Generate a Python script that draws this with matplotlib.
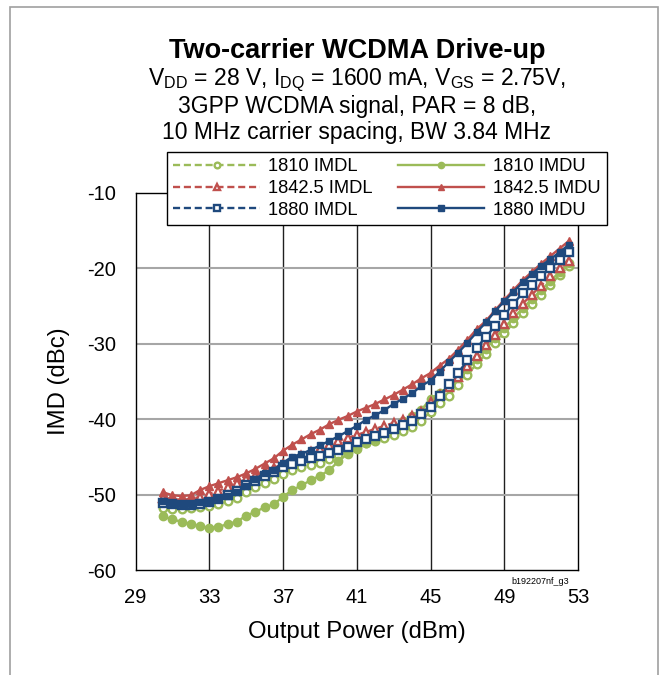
import numpy as np
import matplotlib
matplotlib.use("Agg")
import matplotlib.pyplot as plt
from matplotlib.patches import Rectangle

plt.rcParams['font.family'] = ['Liberation Sans', 'DejaVu Sans']
plt.rcParams['mathtext.fontset'] = 'custom'
plt.rcParams['mathtext.rm'] = 'Liberation Sans'
plt.rcParams['axes.unicode_minus'] = False

# output power (dBm)
pout = [30.5, 31, 31.5, 32, 32.5, 33, 33.5, 34, 34.5, 35, 35.5, 36, 36.5, 37, 37.5,
        38, 38.5, 39, 39.5, 40, 40.5, 41, 41.5, 42, 42.5, 43, 43.5, 44, 44.5, 45,
        45.5, 46, 46.5, 47, 47.5, 48, 48.5, 49, 49.5, 50, 50.5, 51, 51.5, 52, 52.5]

imdl_1810 = [-51.8, -51.9, -51.9, -51.8, -51.6, -51.5, -51.2, -50.9, -50.4, -49.6,
             -49.0, -48.5, -47.9, -47.3, -46.8, -46.4, -46.1, -45.8, -45.3, -44.8,
             -44.3, -43.7, -43.2, -42.9, -42.5, -42.1, -41.6, -41.0, -40.2, -39.0,
             -37.9, -36.9, -35.5, -34.1, -32.7, -31.4, -29.9, -28.6, -27.3, -26.0,
             -24.8, -23.5, -22.2, -20.9, -19.7]
imdu_1810 = [-52.9, -53.3, -53.6, -53.9, -54.2, -54.4, -54.3, -53.9, -53.6, -52.8,
             -52.3, -51.7, -51.3, -50.3, -49.4, -48.8, -48.1, -47.5, -46.8, -45.6,
             -44.6, -43.9, -43.2, -42.6, -41.9, -41.1, -40.3, -39.6, -38.8, -37.3,
             -36.6, -35.7, -34.6, -33.4, -32.1, -30.7, -29.3, -27.9, -26.6, -25.3,
             -24.1, -22.9, -21.7, -20.5, -19.3]
imdl_1842 = [-50.4, -50.6, -50.7, -50.6, -50.3, -49.9, -49.5, -49.0, -48.5, -48.0,
             -47.5, -47.0, -46.5, -45.9, -45.4, -44.9, -44.4, -43.9, -43.4, -42.9,
             -42.5, -42.1, -41.7, -41.3, -40.9, -40.5, -40.1, -39.6, -39.0, -37.8,
             -36.8, -35.7, -34.4, -33.0, -31.6, -30.2, -28.8, -27.4, -26.0, -24.7,
             -23.5, -22.3, -21.1, -20.0, -19.0]
imdu_1842 = [-49.7, -50.1, -50.2, -50.1, -49.4, -48.9, -48.5, -48.1, -47.7, -47.2,
             -46.6, -45.9, -45.2, -44.2, -43.4, -42.7, -42.0, -41.4, -40.7, -40.1,
             -39.6, -39.0, -38.5, -38.0, -37.4, -36.8, -36.1, -35.4, -34.6, -33.9,
             -32.9, -32.0, -30.8, -29.5, -28.1, -27.0, -25.6, -24.2, -22.9, -21.6,
             -20.5, -19.4, -18.4, -17.4, -16.4]
imdl_1880 = [-51.1, -51.3, -51.4, -51.4, -51.2, -51.0, -50.6, -50.1, -49.5, -48.8,
             -48.2, -47.6, -47.0, -46.4, -46.0, -45.6, -45.2, -44.9, -44.5, -44.1,
             -43.7, -43.1, -42.6, -42.3, -41.8, -41.3, -40.8, -40.2, -39.3, -38.4,
             -36.9, -35.4, -33.9, -32.2, -30.6, -29.1, -27.7, -26.2, -24.7, -23.3,
             -22.2, -21.0, -20.0, -18.9, -17.9]
imdu_1880 = [-50.8, -51.1, -51.2, -51.2, -51.0, -50.8, -50.5, -50.2, -49.7, -48.9,
             -47.9, -47.2, -46.7, -45.8, -45.0, -44.6, -44.1, -43.5, -42.9, -42.3,
             -41.6, -40.9, -40.1, -39.5, -38.8, -38.0, -37.3, -36.6, -35.6, -34.9,
             -33.7, -32.4, -31.2, -29.9, -28.5, -27.2, -25.7, -24.4, -23.1, -21.9,
             -20.8, -19.7, -18.8, -17.9, -16.9]

green = '#9BBB59'
red = '#C0504D'
blue = '#1F497D'

fig = plt.figure(figsize=(6.64, 6.75), dpi=100)
ax = fig.add_axes([135.5/664, 1-570/675, (578-135.5)/664, (570-192.7)/675])

# outer frame
fig.patches.append(Rectangle((10/664, -0.01), 648/664, 1.005-4/675, transform=fig.transFigure,
                             fill=False, edgecolor='#A0A0A0', lw=1.2))

ax.set_xlim(29, 53)
ax.set_ylim(-60, -10)
ax.set_xticks([29, 33, 37, 41, 45, 49, 53])
ax.set_yticks([-60, -50, -40, -30, -20, -10])
ax.tick_params(length=0, labelsize=14.5)
ax.tick_params(axis='y', pad=14)
ax.tick_params(axis='x', pad=13)
for x in [33, 37, 41, 45, 49]:
    ax.axvline(x, color='#202020', lw=1.0, zorder=1)
for y in [-20, -30, -40, -50]:
    ax.axhline(y, color='#A6A6A6', lw=1.5, zorder=1)
for s in ax.spines.values():
    s.set_color('black')
    s.set_linewidth(1.0)

ms = 5.5
dash = (3, 1.6)
h1, = ax.plot(pout, imdl_1810, color=green, lw=1.7, dashes=dash, marker='o', ms=ms,
              mfc='white', mec=green, mew=1.7, label='1810 IMDL')
h2, = ax.plot(pout, imdu_1810, color=green, lw=1.7, marker='o', ms=ms + 0.5,
              mfc=green, mec=green, label='1810 IMDU')
h3, = ax.plot(pout, imdl_1842, color=red, lw=1.7, dashes=dash, marker='^', ms=ms,
              mfc='white', mec=red, mew=1.7, label='1842.5 IMDL')
h4, = ax.plot(pout, imdu_1842, color=red, lw=1.7, marker='^', ms=ms + 0.5,
              mfc=red, mec=red, label='1842.5 IMDU')
h5, = ax.plot(pout, imdl_1880, color=blue, lw=1.7, dashes=dash, marker='s', ms=ms,
              mfc='white', mec=blue, mew=1.7, label='1880 IMDL')
h6, = ax.plot(pout, imdu_1880, color=blue, lw=1.7, marker='s', ms=ms - 0.5,
              mfc=blue, mec=blue, label='1880 IMDU')

leg = ax.legend(handles=[h1, h3, h5, h2, h4, h6], ncol=2, loc='upper left',
                bbox_to_anchor=(167/664, 1-152/675), bbox_transform=fig.transFigure,
                borderaxespad=0, fancybox=False, framealpha=1, edgecolor='black',
                fontsize=13.2, handlelength=4.7, markerscale=0.75, columnspacing=1.4,
                labelspacing=0.25, handletextpad=0.45, borderpad=0.35)
leg.get_frame().set_linewidth(1.0)
leg.set_zorder(10)

ax.set_xlabel('Output Power (dBm)', fontsize=17.2)
ax.xaxis.set_label_coords(0.5, -0.135)
ax.set_ylabel('IMD (dBc)', fontsize=17.2)
ax.yaxis.set_label_coords(-0.148, 0.5)

cx = 357/664
fig.text(cx, 1-51/675, 'Two-carrier WCDMA Drive-up', ha='center', va='center',
         fontsize=19.5, fontweight='bold')
fig.text(cx, 1-80/675,
         r'V$_{\mathregular{DD}}$ = 28 V, I$_{\mathregular{DQ}}$ = 1600 mA, V$_{\mathregular{GS}}$ = 2.75V,',
         ha='center', va='center', fontsize=16.5)
fig.text(cx, 1-107/675, '3GPP WCDMA signal, PAR = 8 dB,', ha='center', va='center', fontsize=16.5)
fig.text(cx, 1-133/675, '10 MHz carrier spacing, BW 3.84 MHz', ha='center', va='center', fontsize=16.5)

fig.text(540/664, 1-582/675, 'b192207nf_g3', ha='center', va='center', fontsize=6.5)

fig.savefig('out.png', dpi=100)
